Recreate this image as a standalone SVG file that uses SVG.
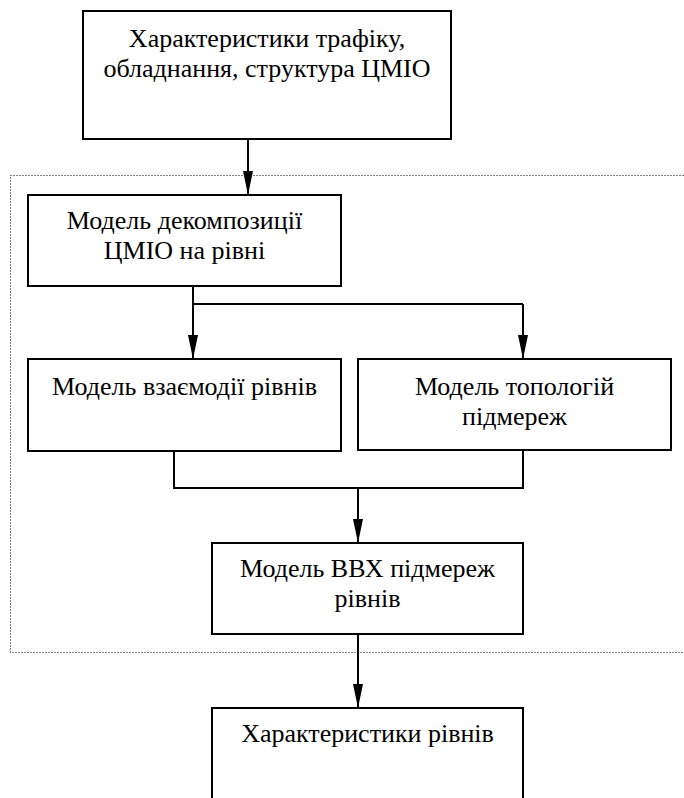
<svg xmlns="http://www.w3.org/2000/svg" width="684" height="798" viewBox="0 0 684 798">
<defs>
<style>
.box{fill:#fff;stroke:#000;stroke-width:2}
.t{font-family:"Liberation Serif","Times New Roman",serif;font-size:26px;fill:#000;text-anchor:middle}
.c{fill:none;stroke:#000;stroke-width:2}
.dot{fill:none;stroke:#000;stroke-width:1;stroke-dasharray:1,2}
</style>
<marker id="arr" markerUnits="userSpaceOnUse" markerWidth="24" markerHeight="10" refX="24" refY="5" orient="auto">
<path d="M0,0 L24,5 L0,10 z" fill="#000"/>
</marker>
</defs>
<rect width="684" height="798" fill="#fff"/>
<rect id="frame" class="dot" x="10.5" y="175.5" width="690" height="477"/>
<g id="n1"><rect class="box" x="83" y="11" width="368" height="128"/>
<text class="t" x="267" y="47">Характеристики трафіку,</text>
<text class="t" x="267" y="77">обладнання, структура ЦМІО</text></g>
<g id="n2"><rect class="box" x="28" y="195" width="313" height="91"/>
<text class="t" x="184.5" y="229">Модель декомпозиції</text>
<text class="t" x="184.5" y="259">ЦМІО на рівні</text></g>
<g id="n3"><rect class="box" x="28" y="359" width="313" height="92"/>
<text class="t" x="184.5" y="395">Модель взаємодії рівнів</text></g>
<g id="n4"><rect class="box" x="358" y="359" width="313" height="91"/>
<text class="t" x="514.5" y="395">Модель топологій</text>
<text class="t" x="514.5" y="425">підмереж</text></g>
<g id="n5"><rect class="box" x="212" y="543" width="311" height="91"/>
<text class="t" x="367.5" y="577">Модель ВВХ підмереж</text>
<text class="t" x="367.5" y="607">рівнів</text></g>
<g id="n6"><rect class="box" x="212" y="708" width="311" height="110"/>
<text class="t" x="367.5" y="742">Характеристики рівнів</text></g>
<g id="connectors">
<path class="c" d="M248,139 V195" marker-end="url(#arr)"/>
<path class="c" d="M193,286 V304 H523"/>
<path class="c" d="M193,304 V359" marker-end="url(#arr)"/>
<path class="c" d="M523,304 V359" marker-end="url(#arr)"/>
<path class="c" d="M174,451 V488 H523 V450"/>
<path class="c" d="M358,488 V543" marker-end="url(#arr)"/>
<path class="c" d="M358,634 V708" marker-end="url(#arr)"/>
</g>
</svg>
